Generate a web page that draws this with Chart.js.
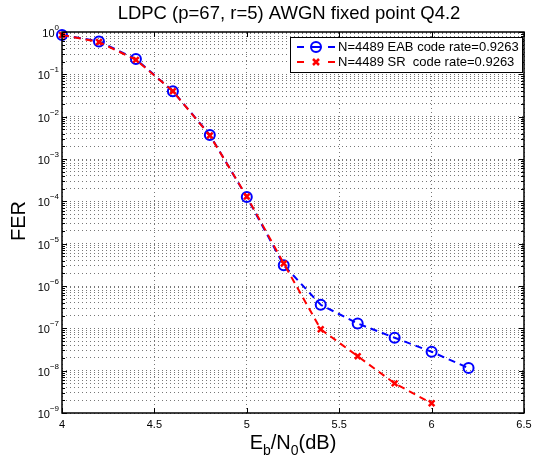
<!DOCTYPE html>
<html>
<head>
<meta charset="utf-8">
<script src="https://cdn.jsdelivr.net/npm/chart.js@4"></script>
<style>
  html, body { margin: 0; padding: 0; background: #fff; }
  #wrap { width: 533px; height: 461px; }
</style>
</head>
<body>
<div id="wrap"><canvas id="myChart" width="533" height="461"></canvas></div>
<script>
// Eb/N0 points (dB)
const ebnoEAB = [4.0, 4.2, 4.4, 4.6, 4.8, 5.0, 5.2, 5.4, 5.6, 5.8, 6.0, 6.2];
const ferEAB  = [0.85, 0.6, 0.23, 0.04, 3.7e-3, 1.26e-4, 3.1e-6, 3.6e-7, 1.3e-7, 6.0e-8, 2.8e-8, 1.15e-8];

const ebnoSR = [4.0, 4.2, 4.4, 4.6, 4.8, 5.0, 5.2, 5.4, 5.6, 5.8, 6.0];
const ferSR  = [0.85, 0.58, 0.22, 0.04, 3.6e-3, 1.3e-4, 3.4e-6, 9.5e-8, 2.2e-8, 5.0e-9, 1.7e-9];

const xTicks = [4, 4.5, 5, 5.5, 6, 6.5];
const xTickLabels = ['4', '4.5', '5', '5.5', '6', '6.5'];
const yExponents = [0, -1, -2, -3, -4, -5, -6, -7, -8, -9];

const legendLabels = ['N=4489 EAB code rate=0.9263', 'N=4489 SR  code rate=0.9263'];
const titleText = 'LDPC (p=67, r=5) AWGN fixed point Q4.2';

const FONT = '"Liberation Sans", Arial, sans-serif';

function toPoints(xs, ys) {
  return xs.map((x, i) => ({ x: x, y: ys[i] }));
}

// all log grid positions 1..9 x 10^n
const yGrid = [];
for (let e = -9; e <= 0; e++) {
  for (let m = 1; m <= 9; m++) {
    const v = m * Math.pow(10, e);
    if (v <= 1.0000001) yGrid.push(v);
  }
}

const matlabAxes = {
  id: 'matlabAxes',
  afterDraw(chart) {
    const ctx = chart.ctx;
    const xs = chart.scales.x;
    const ys = chart.scales.y;
    const a = chart.chartArea;
    ctx.save();

    // inside ticks
    ctx.strokeStyle = '#000';
    ctx.lineWidth = 1;
    ctx.beginPath();
    xTicks.forEach(v => {
      const px = Math.round(xs.getPixelForValue(v)) + 0.5;
      ctx.moveTo(px, a.bottom); ctx.lineTo(px, a.bottom - 5);
      ctx.moveTo(px, a.top); ctx.lineTo(px, a.top + 5);
    });
    yGrid.forEach(v => {
      const py = Math.round(ys.getPixelForValue(v)) + 0.5;
      const major = Math.abs(Math.log10(v) - Math.round(Math.log10(v))) < 1e-6;
      const len = major ? 5 : 3;
      ctx.moveTo(a.left, py); ctx.lineTo(a.left + len, py);
      ctx.moveTo(a.right, py); ctx.lineTo(a.right - len, py);
    });
    ctx.stroke();

    // box
    ctx.lineWidth = 1.5;
    ctx.strokeRect(a.left, a.top, a.right - a.left, a.bottom - a.top);

    // x tick labels
    ctx.fillStyle = '#000';
    ctx.font = '11px ' + FONT;
    ctx.textAlign = 'center';
    ctx.textBaseline = 'top';
    xTicks.forEach((v, i) => {
      ctx.fillText(xTickLabels[i], xs.getPixelForValue(v), a.bottom + 6);
    });

    // y tick labels 10^n
    yExponents.forEach(e => {
      const py = ys.getPixelForValue(Math.pow(10, e));
      ctx.font = '8px ' + FONT;
      const sup = e === 0 ? '0' : '\u2212' + Math.abs(e);
      const supW = ctx.measureText(sup).width;
      ctx.textAlign = 'left';
      ctx.textBaseline = 'alphabetic';
      const right = a.left - 3;
      ctx.fillText(sup, right - supW, py - 2);
      ctx.font = '11px ' + FONT;
      ctx.textAlign = 'right';
      ctx.fillText('10', right - supW, py + 5);
    });

    // title
    ctx.font = '18.5px ' + FONT;
    ctx.textAlign = 'center';
    ctx.textBaseline = 'middle';
    ctx.fillText(titleText, 289, 14);

    // x axis title Eb/N0(dB)
    const big = '20px ' + FONT;
    const small = '14px ' + FONT;
    const parts = [['E', big, 0], ['b', small, 6], ['/N', big, 0], ['0', small, 6], ['(dB)', big, 0]];
    let total = 0;
    parts.forEach(p => { ctx.font = p[1]; total += ctx.measureText(p[0]).width; });
    let cx = (a.left + a.right) / 2 - total / 2;
    const baseY = 449;
    ctx.textAlign = 'left';
    ctx.textBaseline = 'alphabetic';
    parts.forEach(p => {
      ctx.font = p[1];
      ctx.fillText(p[0], cx, baseY + p[2]);
      cx += ctx.measureText(p[0]).width;
    });

    // y axis title
    ctx.save();
    ctx.translate(19, 221);
    ctx.rotate(-Math.PI / 2);
    ctx.font = '20px ' + FONT;
    ctx.textAlign = 'center';
    ctx.textBaseline = 'middle';
    ctx.fillText('FER', 0, 0);
    ctx.restore();

    // legend box
    const lx = 290, ly = 37, lw = 232, lh = 35;
    ctx.fillStyle = '#fff';
    ctx.fillRect(lx, ly, lw, lh);
    ctx.strokeStyle = '#000';
    ctx.lineWidth = 1;
    ctx.strokeRect(lx + 0.5, ly + 0.5, lw, lh);

    const rows = [
      { color: '#0000ff', marker: 'circle' },
      { color: '#ff0000', marker: 'cross' }
    ];
    rows.forEach((r, i) => {
      const ry = ly + 10 + i * 15;
      ctx.strokeStyle = r.color;
      ctx.lineWidth = 2;
      ctx.beginPath();
      ctx.moveTo(297, ry); ctx.lineTo(304, ry);
      ctx.moveTo(328, ry); ctx.lineTo(335, ry);
      ctx.stroke();
      ctx.beginPath();
      if (r.marker === 'circle') {
        ctx.arc(316, ry, 5, 0, Math.PI * 2);
        ctx.moveTo(312, ry); ctx.lineTo(320, ry);
      } else {
        ctx.lineWidth = 2.5;
        ctx.moveTo(313, ry - 3); ctx.lineTo(319, ry + 3);
        ctx.moveTo(319, ry - 3); ctx.lineTo(313, ry + 3);
      }
      ctx.stroke();
      ctx.fillStyle = '#000';
      ctx.font = '13px ' + FONT;
      ctx.textAlign = 'left';
      ctx.textBaseline = 'middle';
      ctx.fillText(legendLabels[i], 338, ry + 0.5);
    });

    ctx.restore();
  }
};

const ctx = document.getElementById('myChart').getContext('2d');

const myChart = new Chart(ctx, {
  type: 'scatter',
  data: {
    datasets: [{
      label: legendLabels[0],
      data: toPoints(ebnoEAB, ferEAB),
      showLine: true,
      tension: 0,
      borderColor: '#0000ff',
      backgroundColor: 'rgba(0,0,0,0)',
      borderWidth: 2,
      borderDash: [7, 5],
      pointStyle: 'circle',
      pointRadius: 5,
      pointBorderWidth: 2,
      pointBorderColor: '#0000ff',
      pointBackgroundColor: 'rgba(0,0,0,0)',
      order: 1
    }, {
      label: legendLabels[1],
      data: toPoints(ebnoSR, ferSR),
      showLine: true,
      tension: 0,
      borderColor: '#ff0000',
      backgroundColor: 'rgba(0,0,0,0)',
      borderWidth: 2,
      borderDash: [7, 5],
      pointStyle: 'crossRot',
      pointRadius: 4,
      pointBorderWidth: 2.5,
      pointBorderColor: '#ff0000',
      order: 0
    }]
  },
  options: {
    responsive: false,
    animation: false,
    clip: false,
    layout: { padding: { left: 62, right: 9, top: 32, bottom: 48 } },
    plugins: {
      legend: { display: false },
      title: { display: false },
      tooltip: { enabled: false }
    },
    scales: {
      x: {
        type: 'linear',
        min: 4,
        max: 6.5,
        afterBuildTicks: (axis) => { axis.ticks = xTicks.map(v => ({ value: v })); },
        ticks: { display: false },
        border: { display: false, dash: [1, 3] },
        grid: {
          drawTicks: false,
          color: '#777',
          lineWidth: 1,
          tickLength: 0
        },
        title: { display: false }
      },
      y: {
        type: 'logarithmic',
        min: 1e-9,
        max: 1,
        afterBuildTicks: (axis) => { axis.ticks = yGrid.map(v => ({ value: v })); },
        ticks: { display: false },
        border: { display: false, dash: [1, 3] },
        grid: {
          drawTicks: false,
          color: '#777',
          lineWidth: 1,
          tickLength: 0
        },
        title: { display: false }
      }
    }
  },
  plugins: [matlabAxes]
});
</script>
</body>
</html>
